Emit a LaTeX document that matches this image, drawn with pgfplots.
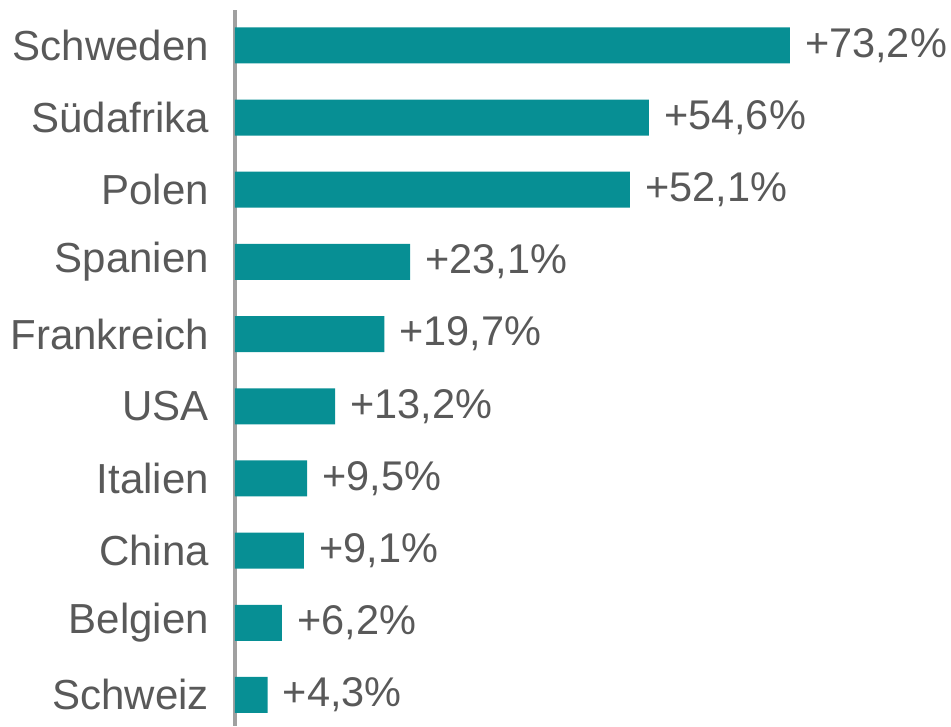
\documentclass[border=0pt]{standalone}
\usepackage{fontspec}
\setmainfont{Liberation Sans}
\usepackage{pgfplots}
\usepackage{pgfplotstable}
\pgfplotsset{compat=1.18}
\definecolor{barc}{HTML}{078F94}
\definecolor{txt}{HTML}{595959}
\definecolor{axc}{HTML}{A0A0A0}
\pgfplotstableread{
idx name val lab
0 Schweden 73.2 73,2
1 Südafrika 54.6 54,6
2 Polen 52.1 52,1
3 Spanien 23.1 23,1
4 Frankreich 19.7 19,7
5 USA 13.2 13,2
6 Italien 9.5 9,5
7 China 9.1 9,1
8 Belgien 6.2 6,2
9 Schweiz 4.3 4,3
}\datatable
\begin{document}
\begin{tikzpicture}
\begin{axis}[
  at={(0pt,0pt)}, anchor=south west,
  scale only axis, width=716pt, height=716pt,
  xmin=0, xmax=94.46, ymin=-0.49, ymax=9.43, y dir=reverse,
  axis x line=none, axis y line=left,
  axis line style={axc, line width=3.5pt, -},
  ytick={0,...,9},
  yticklabels from table={\datatable}{name},
  major tick length=0pt,
  yticklabel style={font=\fontsize{42}{50}\selectfont, text=txt, inner sep=0pt, xshift=-26pt},
  xbar, bar width=36pt,
  point meta=explicit symbolic,
  nodes near coords={+\pgfplotspointmeta\%},
  every node near coord/.append style={font=\fontsize{41.5}{50}\selectfont, text=txt, inner sep=0pt, anchor=west, xshift=15pt},
  clip=false,
]
\addplot[fill=barc, draw=none] table[x=val, y=idx, meta=lab]{\datatable};
\end{axis}
\pgfresetboundingbox
\path[use as bounding box] (-235pt,0pt) rectangle (716pt,726pt);
\end{tikzpicture}
\end{document}
